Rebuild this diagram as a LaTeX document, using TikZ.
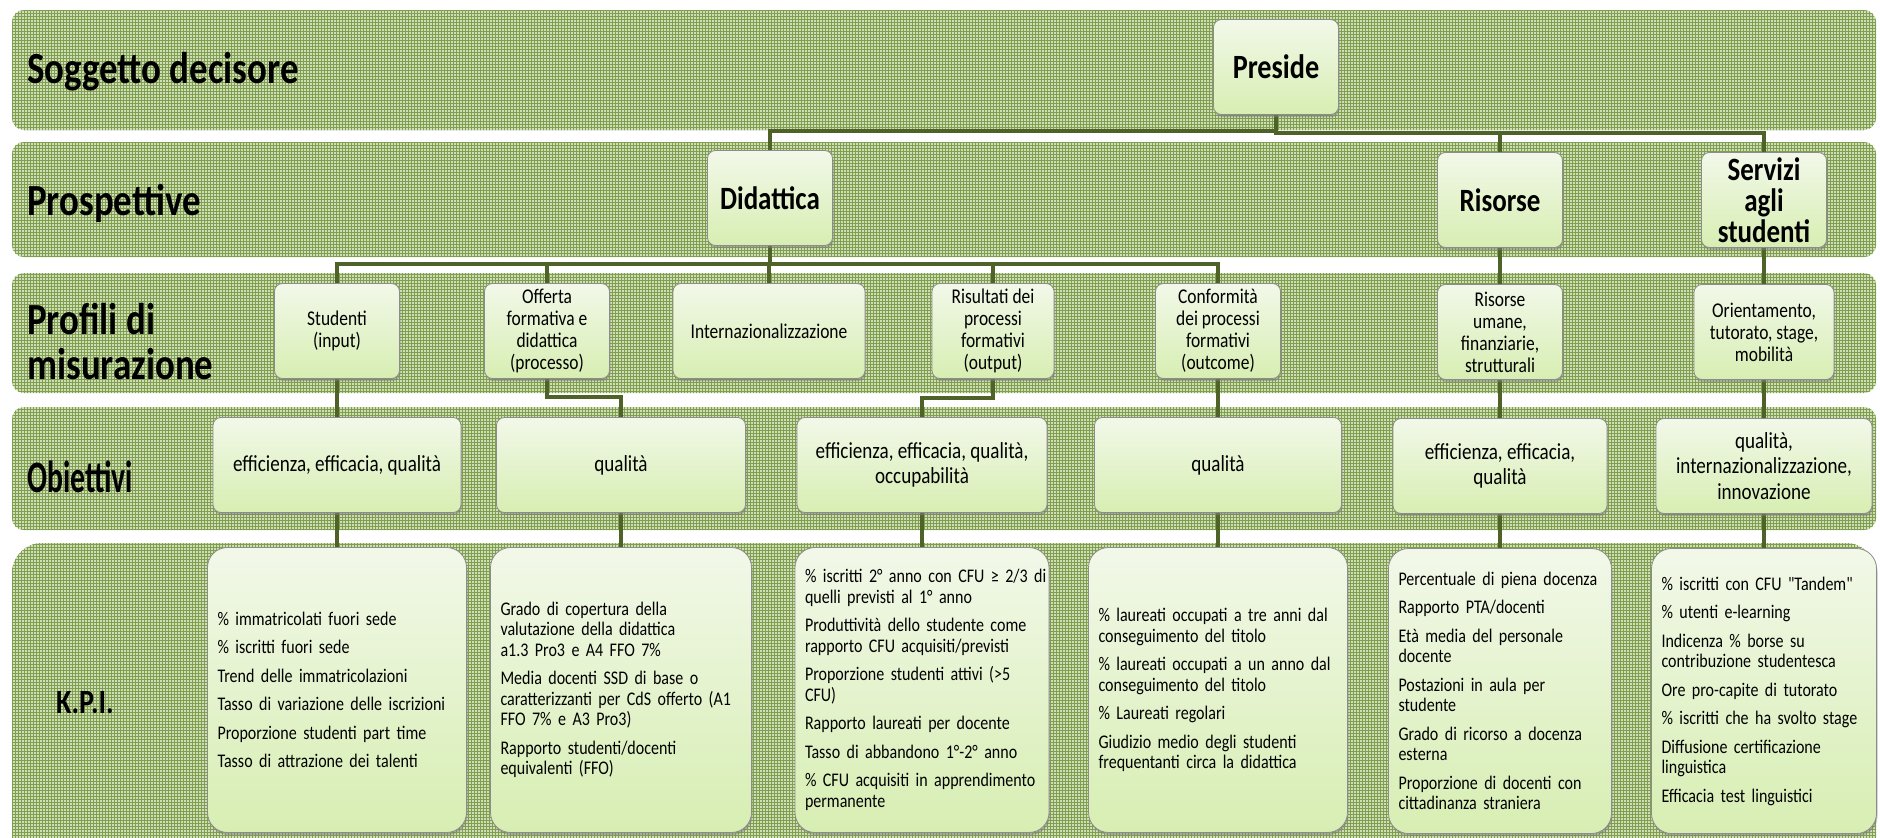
\documentclass[tikz,border=0pt]{standalone}
\usepackage{fontspec}
\setmainfont{Carlito}[FakeStretch=0.83]
\newfontfamily\narrowfont{Carlito}[FakeStretch=0.66]
\newfontfamily\quotefont{Carlito}[FakeStretch=0.83, Ligatures=TeXOff]
\usepackage{xcolor}
\usepackage{tikz}
\usetikzlibrary{patterns,shadows,backgrounds}

\definecolor{linegreen}{RGB}{79,98,40}
\definecolor{bandfill}{RGB}{208,222,184}
\definecolor{bandgrid}{RGB}{128,158,80}
\definecolor{boxtop}{RGB}{242,248,233}
\definecolor{boxbottom}{RGB}{215,238,178}
\definecolor{boxline}{RGB}{140,140,140}

\begin{document}
\begin{tikzpicture}[x=1pt, y=-1pt, node distance=134pt]
    \tikzstyle{band} = [preaction={fill=bandfill}, pattern=grid, pattern color=bandgrid, rounded corners=12pt]
    \tikzstyle{title} = [anchor=west, align=left, inner sep=0pt, font=\fontsize{44.5}{45}\selectfont\bfseries]
    \tikzstyle{boss} = [rectangle, rounded corners=8pt, draw=boxline, line width=0.8pt, top color=boxtop, bottom color=boxbottom, drop shadow={shadow xshift=1pt, shadow yshift=-2.5pt, fill=black!50, opacity=0.5}, minimum width=125pt, minimum height=95pt, inner sep=2pt, align=center, font=\fontsize{32.5}{31}\selectfont\bfseries]
    \tikzstyle{profile} = [boss, font=\fontsize{21}{22}\selectfont]
    \tikzstyle{goal} = [boss, font=\fontsize{23}{25.5}\selectfont]
    \tikzstyle{kpi} = [boss, minimum height=285pt, rounded corners=20pt, inner xsep=10pt, align=left, font=\fontsize{19.3}{20.5}\selectfont]
    \tikzstyle{link} = [draw=linegreen, line width=3.5pt]

    \useasboundingbox (0,0) rectangle (1880,838);

    % Level titles
    \node [title] (lvl1) at (27,72) {Soggetto decisore};
    \node [title] (lvl2) at (27,203) {Prospettive};
    \node [title] (lvl3) at (27,342) {Profili di\\misurazione};
    \node [title, font=\fontsize{45}{45}\narrowfont\bfseries] (lvl4) at (27,477) {Obiettivi};
    \node [title, font=\fontsize{34}{34}\selectfont\bfseries] (lvl5) at (56,703) {K.P.I.};

    % Decision maker
    \node [boss, font=\fontsize{34}{34}\selectfont\bfseries] (preside) at (1276,67) {Preside};

    % Perspectives
    \node [boss] (didattica) at (770,198) {Didattica};
    \node [boss] (risorse) at (1500,200) {Risorse};
    \node [boss] (servizi) at (1764,200) {Servizi\\agli\\studenti};

    % Measurement profiles
    \node [profile] (studenti) at (337,331) {Studenti\\(input)};
    \node [profile] (offerta) at (547,331) {Offerta\\formativa e\\didattica\\(processo)};
    \node [profile, minimum width=192pt] (internaz) at (769,331) {Internazionalizzazione};
    \node [profile, minimum width=122pt] (risultati) at (993,331) {Risultati dei\\processi\\formativi\\(output)};
    \node [profile] (conformita) at (1218,331) {Conformità\\dei processi\\formativi\\(outcome)};
    \node [profile] (umane) at (1500,332) {Risorse\\umane,\\finanziarie,\\strutturali};
    \node [profile, minimum width=140pt] (orient) at (1764,332) {Orientamento,\\tutorato, stage,\\mobilità};

    % Goals
    \node [goal, below of=studenti, minimum width=248pt] (ob1) {efficienza, efficacia, qualità};
    \node [goal, below of=offerta, xshift=74pt, minimum width=249pt] (ob2) {qualità};
    \node [goal, below of=risultati, xshift=-71pt, minimum width=250pt] (ob3) {efficienza, efficacia, qualità,\\occupabilità};
    \node [goal, below of=conformita, minimum width=247pt] (ob4) {qualità};
    \node [goal, below of=umane, minimum width=214pt] (ob5) {efficienza, efficacia,\\qualità};
    \node [goal, below of=orient, minimum width=216pt] (ob6) {qualità,\\internazionalizzazione,\\innovazione};

    % Indicators
    \node [kpi, node distance=225pt, below of=ob1, text width=239pt] (k1) {\% immatricolati fuori sede\\[8pt]
        \% iscritti fuori sede\\[8pt]
        Trend delle immatricolazioni\\[8pt]
        Tasso di variazione delle iscrizioni\\[8pt]
        Proporzione studenti part time\\[8pt]
        Tasso di attrazione dei talenti};
    \node [kpi, node distance=225pt, below of=ob2, text width=241pt] (k2) {Grado di copertura della\\
        valutazione della didattica\\
        a1.3 Pro3 e A4 FFO 7\%\\[8pt]
        Media docenti SSD di base o\\
        caratterizzanti per CdS offerto (A1\\
        FFO 7\% e A3 Pro3)\\[8pt]
        Rapporto studenti/docenti\\
        equivalenti (FFO)};
    \node [kpi, node distance=225pt, below of=ob3, text width=234pt] (k3) {\mbox{\% iscritti 2° anno con CFU ≥ 2/3 di}\\
        quelli previsti al 1° anno\\[8pt]
        Produttività dello studente come\\
        rapporto CFU acquisiti/previsti\\[8pt]
        Proporzione studenti attivi (>5\\
        CFU)\\[8pt]
        Rapporto laureati per docente\\[8pt]
        Tasso di abbandono 1°-2° anno\\[8pt]
        \% CFU acquisiti in apprendimento\\
        permanente};
    \node [kpi, node distance=225pt, below of=ob4, text width=239pt] (k4) {\% laureati occupati a tre anni dal\\
        conseguimento del titolo\\[8pt]
        \% laureati occupati a un anno dal\\
        conseguimento del titolo\\[8pt]
        \% Laureati regolari\\[8pt]
        Giudizio medio degli studenti\\
        frequentanti circa la didattica};
    \node [kpi, node distance=225pt, below of=ob5, text width=203pt] (k5) {Percentuale di piena docenza\\[8pt]
        Rapporto PTA/docenti\\[8pt]
        Età media del personale\\
        docente\\[8pt]
        Postazioni in aula per\\
        studente\\[8pt]
        Grado di ricorso a docenza\\
        esterna\\[8pt]
        Proporzione di docenti con\\
        cittadinanza straniera};
    \node [kpi, node distance=225pt, below of=ob6, text width=205pt] (k6) {\% iscritti con CFU {\quotefont"Tandem"}\\[8pt]
        \% utenti e-learning\\[8pt]
        Indicenza \% borse su\\
        contribuzione studentesca\\[8pt]
        Ore pro-capite di tutorato\\[8pt]
        \% iscritti che ha svolto stage\\[8pt]
        Diffusione certificazione\\
        linguistica\\[8pt]
        Efficacia test linguistici};

    \begin{scope}[on background layer]
        \clip (0,0) rectangle (1880,838);
        % Bands
        \path [band] (12,10) rectangle (1876,130);
        \path [band] (12,142) rectangle (1876,257);
        \path [band] (12,273) rectangle (1876,393);
        \path [band] (12,407) rectangle (1876,530);
        \path [band, rounded corners=30pt] (12,543) rectangle (1876,870);

        % Connections
        \draw [link] (preside.south) -- ++(0,16) -| (didattica.north);
        \draw [link] (preside.south) -- ++(0,18) -| (risorse.north);
        \draw [link] (preside.south) -- ++(0,18) -| (servizi.north);

        \draw [link] (didattica.south) -- ++(0,18) -| (studenti.north);
        \draw [link] (didattica.south) -- ++(0,18) -| (offerta.north);
        \draw [link] (didattica.south) -- ++(0,18) -| (internaz.north);
        \draw [link] (didattica.south) -- ++(0,18) -| (risultati.north);
        \draw [link] (didattica.south) -- ++(0,18) -| (conformita.north);
        \draw [link] (risorse.south) -- (umane.north);
        \draw [link] (servizi.south) -- (orient.north);

        \draw [link] (studenti.south) -- (ob1.north);
        \draw [link] (offerta.south) -- ++(0,18) -| (ob2.north);
        \draw [link] (risultati.south) -- ++(0,19) -| (ob3.north);
        \draw [link] (conformita.south) -- (ob4.north);
        \draw [link] (umane.south) -- (ob5.north);
        \draw [link] (orient.south) -- (ob6.north);

        \draw [link] (ob1.south) -- (k1.north);
        \draw [link] (ob2.south) -- (k2.north);
        \draw [link] (ob3.south) -- (k3.north);
        \draw [link] (ob4.south) -- (k4.north);
        \draw [link] (ob5.south) -- (k5.north);
        \draw [link] (ob6.south) -- (k6.north);
    \end{scope}
\end{tikzpicture}
\end{document}
